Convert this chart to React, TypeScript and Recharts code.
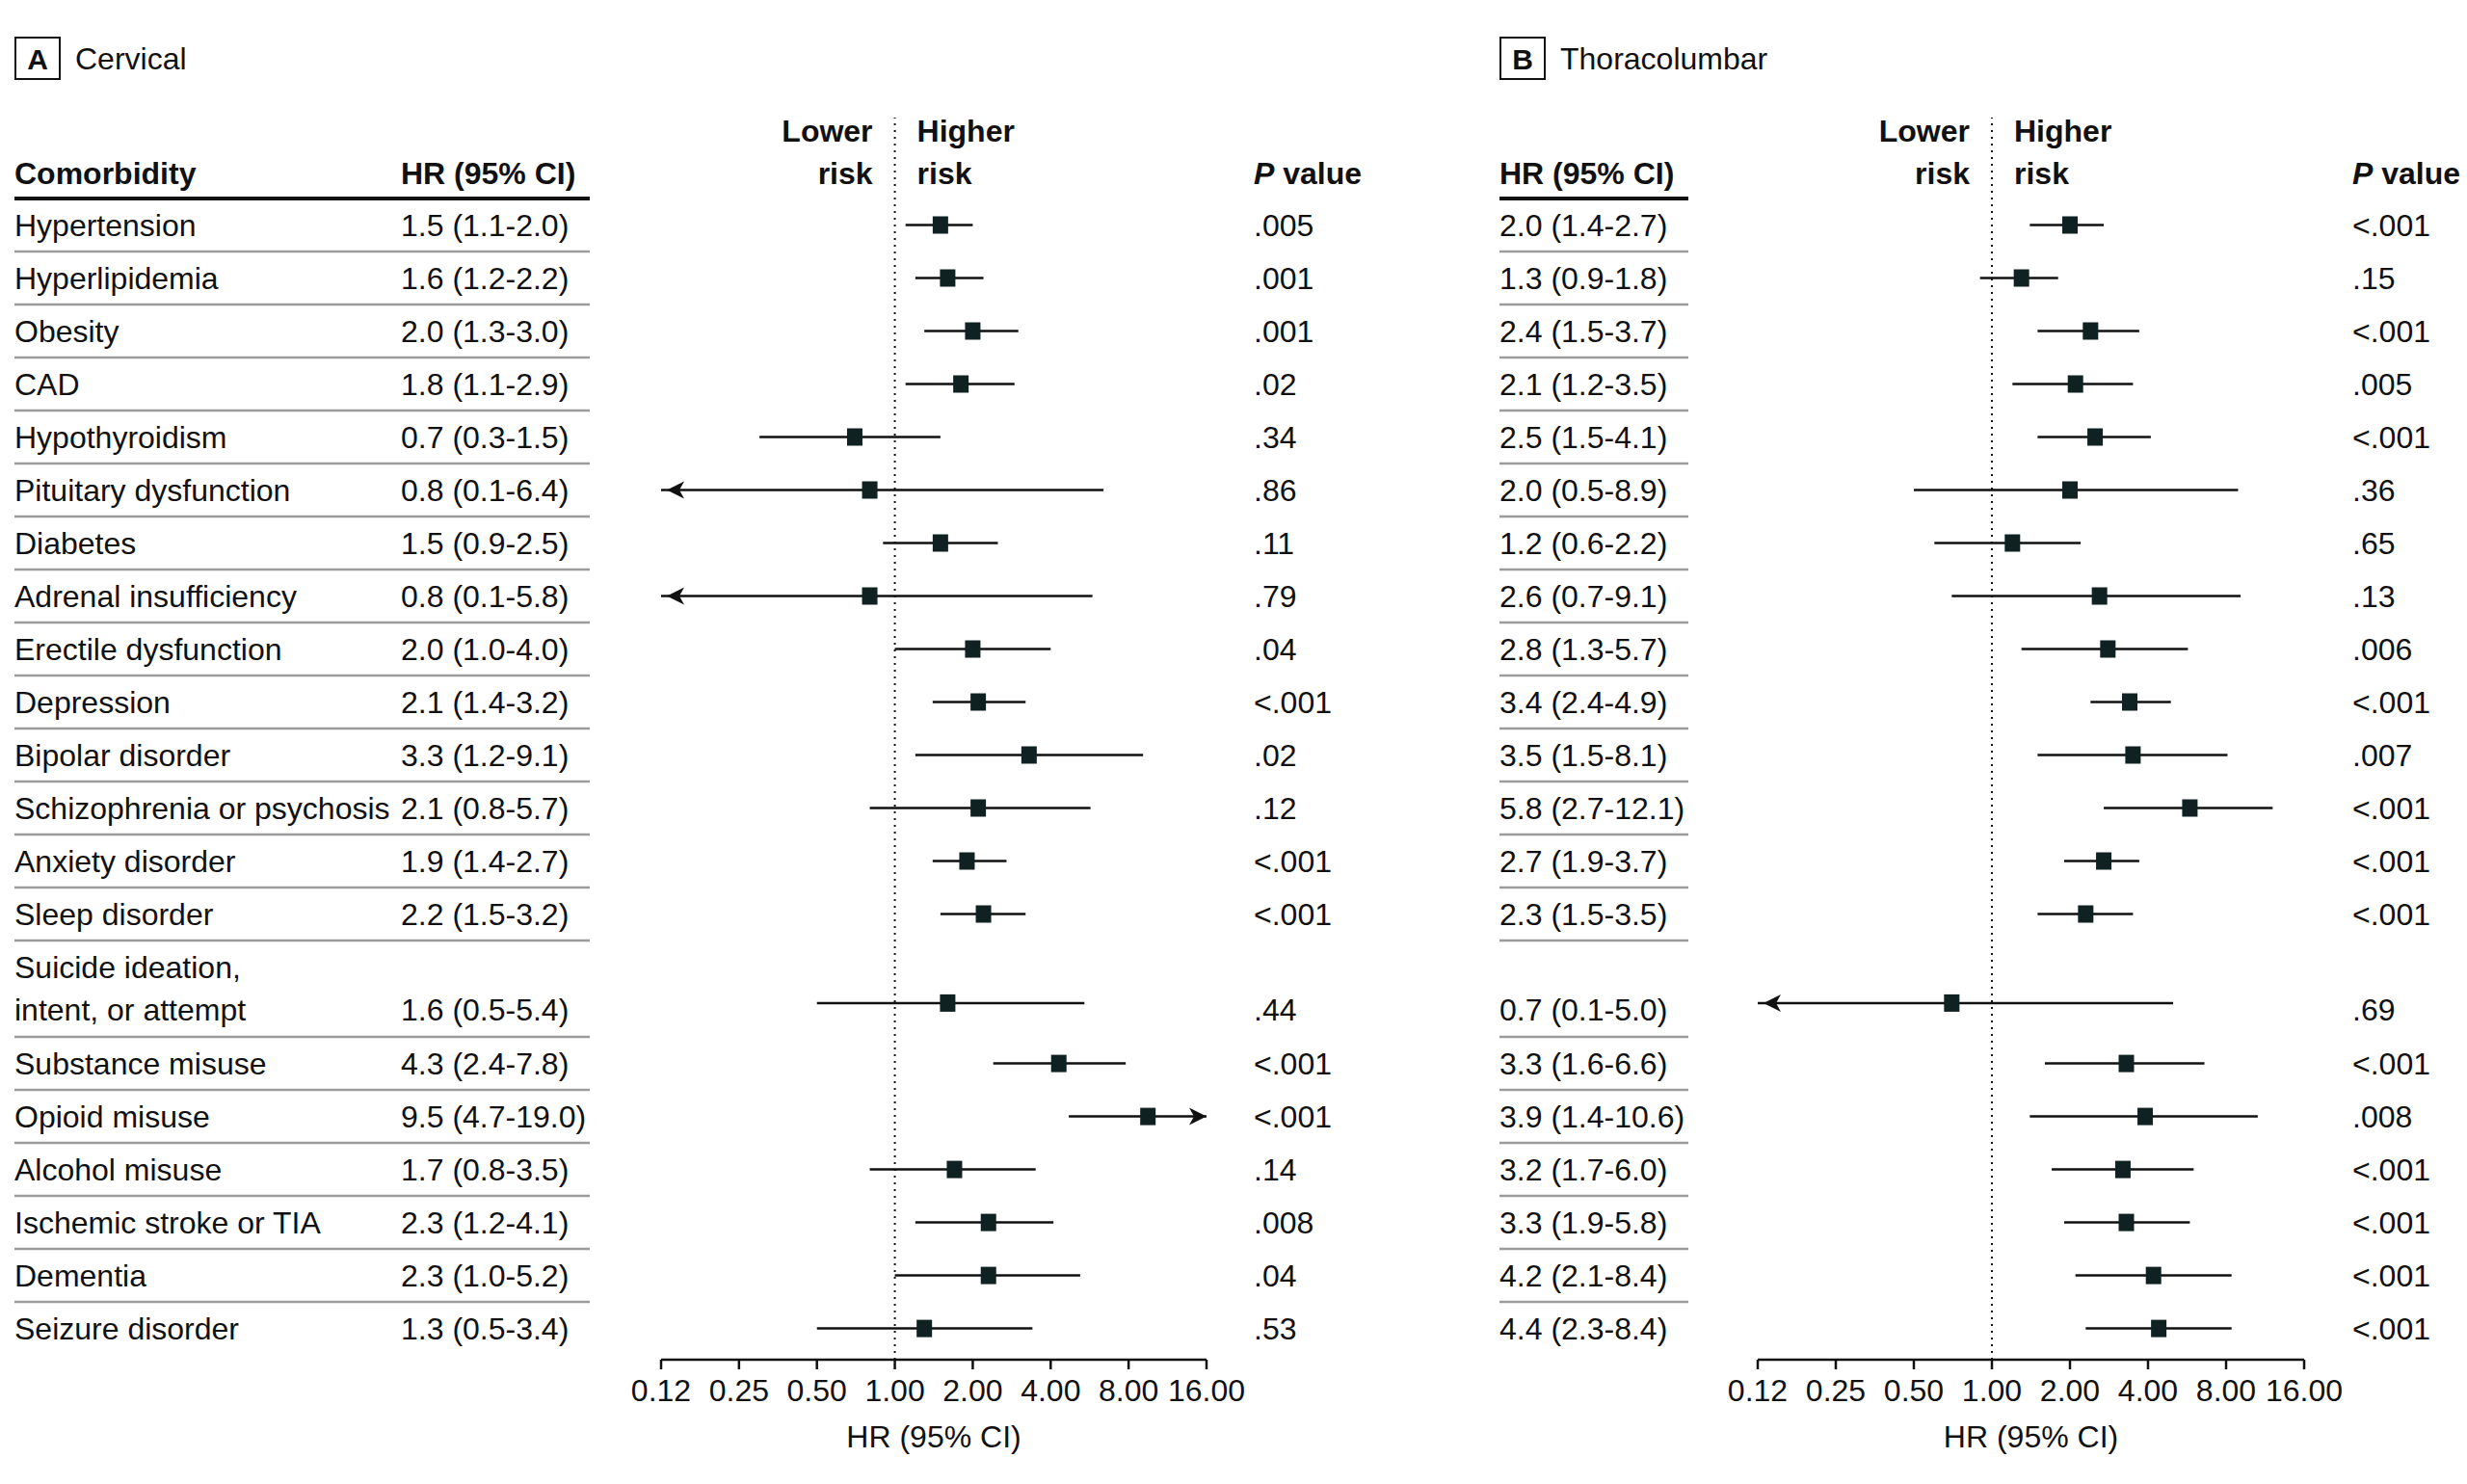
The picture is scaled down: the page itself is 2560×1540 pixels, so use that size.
import React from "react";
import {
  ScatterChart,
  Scatter,
  XAxis,
  YAxis,
  ErrorBar,
  ReferenceLine,
  Customized,
} from "recharts";

const FONT = '"Liberation Sans", Arial, sans-serif';
const INK = "#111";
const MARK = "#0f2121";
const RULE = "#9b9b9b";

const COMORBIDITIES = [
  "Hypertension",
  "Hyperlipidemia",
  "Obesity",
  "CAD",
  "Hypothyroidism",
  "Pituitary dysfunction",
  "Diabetes",
  "Adrenal insufficiency",
  "Erectile dysfunction",
  "Depression",
  "Bipolar disorder",
  "Schizophrenia or psychosis",
  "Anxiety disorder",
  "Sleep disorder",
  "Suicide ideation,\nintent, or attempt",
  "Substance misuse",
  "Opioid misuse",
  "Alcohol misuse",
  "Ischemic stroke or TIA",
  "Dementia",
  "Seizure disorder",
];

const CERVICAL_HR = [1.5, 1.6, 2.0, 1.8, 0.7, 0.8, 1.5, 0.8, 2.0, 2.1, 3.3, 2.1, 1.9, 2.2, 1.6, 4.3, 9.5, 1.7, 2.3, 2.3, 1.3];
const CERVICAL_LO = [1.1, 1.2, 1.3, 1.1, 0.3, 0.1, 0.9, 0.1, 1.0, 1.4, 1.2, 0.8, 1.4, 1.5, 0.5, 2.4, 4.7, 0.8, 1.2, 1.0, 0.5];
const CERVICAL_HI = [2.0, 2.2, 3.0, 2.9, 1.5, 6.4, 2.5, 5.8, 4.0, 3.2, 9.1, 5.7, 2.7, 3.2, 5.4, 7.8, 19.0, 3.5, 4.1, 5.2, 3.4];
const CERVICAL_P = [".005", ".001", ".001", ".02", ".34", ".86", ".11", ".79", ".04", "<.001", ".02", ".12", "<.001", "<.001", ".44", "<.001", "<.001", ".14", ".008", ".04", ".53"];

const THORACO_HR = [2.0, 1.3, 2.4, 2.1, 2.5, 2.0, 1.2, 2.6, 2.8, 3.4, 3.5, 5.8, 2.7, 2.3, 0.7, 3.3, 3.9, 3.2, 3.3, 4.2, 4.4];
const THORACO_LO = [1.4, 0.9, 1.5, 1.2, 1.5, 0.5, 0.6, 0.7, 1.3, 2.4, 1.5, 2.7, 1.9, 1.5, 0.1, 1.6, 1.4, 1.7, 1.9, 2.1, 2.3];
const THORACO_HI = [2.7, 1.8, 3.7, 3.5, 4.1, 8.9, 2.2, 9.1, 5.7, 4.9, 8.1, 12.1, 3.7, 3.5, 5.0, 6.6, 10.6, 6.0, 5.8, 8.4, 8.4];
const THORACO_P = ["<.001", ".15", "<.001", ".005", "<.001", ".36", ".65", ".13", ".006", "<.001", ".007", "<.001", "<.001", "<.001", ".69", "<.001", ".008", "<.001", "<.001", "<.001", "<.001"];

const X_TICKS = [0.125, 0.25, 0.5, 1, 2, 4, 8, 16];
const X_TICK_LABELS = ["0.12", "0.25", "0.50", "1.00", "2.00", "4.00", "8.00", "16.00"];

// layout (px)
const UNIT = 55;
const PLOT_TOP = 122;
const HEADER_Y = 206;
const AXIS_Y = 1411;
const CHART_H = 1540;
const XAXIS_H = 110;
const X_MIN = 0.125;
const X_MAX = 16;
const Y_DOMAIN = [(PLOT_TOP - HEADER_Y) / UNIT, (AXIS_Y - HEADER_Y) / UNIT];

const txt = { fontFamily: FONT, fontSize: 32, fill: INK, dominantBaseline: "central" } as const;

type Row = {
  name: string;
  x: number;
  y: number;
  err: [number, number];
  hrText: string;
  p: string;
  below: number;
  last: boolean;
  clipLo: boolean;
  clipHi: boolean;
};

function buildRows(hr: number[], lo: number[], hi: number[], p: string[]): Row[] {
  let top = 0;
  return COMORBIDITIES.map((name, i) => {
    const twoLine = name.includes("\n");
    const h = twoLine ? 1.82 : 1;
    const center = twoLine ? top + 1.18 : top + 0.5;
    const below = top + h - center;
    top += h;
    const l = Math.max(lo[i], X_MIN);
    const u = Math.min(hi[i], X_MAX);
    return {
      name,
      x: hr[i],
      y: center,
      err: [hr[i] - l, u - hr[i]],
      hrText: `${hr[i].toFixed(1)} (${lo[i].toFixed(1)}-${hi[i].toFixed(1)})`,
      p: p[i],
      below,
      last: i === COMORBIDITIES.length - 1,
      clipLo: lo[i] < X_MIN,
      clipHi: hi[i] > X_MAX,
    };
  });
}

type Layout = {
  width: number;
  yAxisWidth: number;
  marginRight: number;
  nameX: number | null;
  hrX: number;
  sepX1: number;
  sepX2: number;
  pX: number;
  letter: string;
  title: string;
};

function RowTick(props: any) {
  const { y, payload, rows, layout } = props;
  const row: Row | undefined = rows.find((r: Row) => Math.abs(r.y - payload.value) < 1e-6);
  if (!row) return null;
  const lines = row.name.split("\n");
  // two-line rows: text sits a little below the marker
  const ty = lines.length > 1 ? y + 7 : y;
  return (
    <g>
      {layout.nameX !== null &&
        lines.map((ln: string, k: number) => (
          <text key={k} x={layout.nameX} y={ty - (lines.length - 1 - k) * 44} {...txt}>
            {ln}
          </text>
        ))}
      <text x={layout.hrX} y={ty} {...txt}>
        {row.hrText}
      </text>
      <text x={layout.pX} y={ty} {...txt}>
        {row.p}
      </text>
      {!row.last && (
        <line
          x1={layout.sepX1}
          x2={layout.sepX2}
          y1={y + row.below * UNIT}
          y2={y + row.below * UNIT}
          stroke={RULE}
          strokeWidth={2.5}
        />
      )}
    </g>
  );
}

function Square(props: any) {
  const { cx, cy } = props;
  return <rect x={cx - 8} y={cy - 9} width={16} height={18} fill={MARK} />;
}

function ArrowHead(props: any) {
  const { cx, cy, payload } = props;
  const d = payload.dir === "left" ? 1 : -1;
  const tip = payload.dir === "left" ? cx + 6 : cx;
  return (
    <polygon
      points={`${tip},${cy} ${tip + d * 18},${cy - 9} ${tip + d * 13},${cy} ${tip + d * 18},${cy + 9}`}
      fill={INK}
    />
  );
}

function RiskLabel(props: any) {
  const { viewBox } = props;
  const x = viewBox.x;
  const y = viewBox.y;
  const b = { ...txt, fontWeight: 700 };
  return (
    <g>
      <text x={x - 23} y={y + 14} textAnchor="end" {...b}>Lower</text>
      <text x={x - 23} y={y + 58} textAnchor="end" {...b}>risk</text>
      <text x={x + 23} y={y + 14} {...b}>Higher</text>
      <text x={x + 23} y={y + 58} {...b}>risk</text>
    </g>
  );
}

function AxisTitle(props: any) {
  const { viewBox } = props;
  return (
    <text x={viewBox.x + viewBox.width / 2} y={viewBox.y + 80} textAnchor="middle" {...txt}>
      HR (95% CI)
    </text>
  );
}

function Header({ layout }: { layout: Layout }) {
  const b = { ...txt, fontWeight: 700 };
  const tx = layout.nameX !== null ? layout.nameX : layout.hrX;
  return (
    <g>
      <rect x={tx + 1} y={39} width={46} height={43} fill="none" stroke={INK} strokeWidth={2} />
      <text x={tx + 24} y={61} textAnchor="middle" {...b} fontSize={30}>
        {layout.letter}
      </text>
      <text x={tx + 63} y={61} {...txt}>
        {layout.title}
      </text>
      {layout.nameX !== null && (
        <text x={layout.nameX} y={180} {...b}>Comorbidity</text>
      )}
      <text x={layout.hrX} y={180} {...b}>HR (95% CI)</text>
      <text x={layout.pX} y={180} {...b}>
        <tspan fontStyle="italic">P</tspan> value
      </text>
      <line x1={layout.sepX1} x2={layout.sepX2} y1={HEADER_Y} y2={HEADER_Y} stroke={INK} strokeWidth={4} />
    </g>
  );
}

function ForestPanel({ rows, layout }: { rows: Row[]; layout: Layout }) {
  const arrows = [
    ...rows.filter((r) => r.clipLo).map((r) => ({ x: X_MIN, y: r.y, dir: "left" })),
    ...rows.filter((r) => r.clipHi).map((r) => ({ x: X_MAX, y: r.y, dir: "right" })),
  ];
  return (
    <ScatterChart
      width={layout.width}
      height={CHART_H}
      margin={{ top: PLOT_TOP, right: layout.marginRight, bottom: CHART_H - AXIS_Y - XAXIS_H, left: 0 }}
    >
      <XAxis
        type="number"
        dataKey="x"
        scale="log"
        domain={[X_MIN, X_MAX]}
        ticks={X_TICKS}
        interval={0}
        allowDataOverflow
        height={XAXIS_H}
        tickSize={10}
        tickMargin={10}
        tickFormatter={(v: number) => X_TICK_LABELS[X_TICKS.indexOf(v)]}
        tick={{ fontSize: 32, fontFamily: FONT, fill: INK }}
        axisLine={{ stroke: INK, strokeWidth: 2.5 }}
        tickLine={{ stroke: INK, strokeWidth: 2.5 }}
        label={<AxisTitle />}
      />
      <YAxis
        type="number"
        dataKey="y"
        domain={Y_DOMAIN}
        reversed
        allowDataOverflow
        ticks={rows.map((r) => r.y)}
        interval={0}
        width={layout.yAxisWidth}
        axisLine={false}
        tickLine={false}
        tick={(p: any) => <RowTick {...p} rows={rows} layout={layout} />}
      />
      <ReferenceLine x={1} stroke={INK} strokeWidth={2} strokeDasharray="2 5" label={<RiskLabel />} />
      <Scatter data={rows} shape={<Square />} isAnimationActive={false}>
        <ErrorBar dataKey="err" direction="x" width={0} stroke={INK} strokeWidth={2.5} />
      </Scatter>
      <Scatter data={arrows} shape={<ArrowHead />} isAnimationActive={false} />
      <Customized component={() => <Header layout={layout} />} />
    </ScatterChart>
  );
}

const CERVICAL_LAYOUT: Layout = {
  width: 1480,
  yAxisWidth: 686,
  marginRight: 228,
  nameX: 15,
  hrX: 416,
  sepX1: 15,
  sepX2: 612,
  pX: 1301,
  letter: "A",
  title: "Cervical",
};

const THORACO_LAYOUT: Layout = {
  width: 1080,
  yAxisWidth: 344,
  marginRight: 169,
  nameX: null,
  hrX: 76,
  sepX1: 76,
  sepX2: 272,
  pX: 961,
  letter: "B",
  title: "Thoracolumbar",
};

export default function App() {
  const cervical = buildRows(CERVICAL_HR, CERVICAL_LO, CERVICAL_HI, CERVICAL_P);
  const thoraco = buildRows(THORACO_HR, THORACO_LO, THORACO_HI, THORACO_P);
  return (
    <div style={{ position: "absolute", left: 0, top: 0, width: 2560, height: 1540, background: "#fff", overflow: "hidden" }}>
      <div style={{ position: "absolute", left: 0, top: 0 }}>
        <ForestPanel rows={cervical} layout={CERVICAL_LAYOUT} />
      </div>
      <div style={{ position: "absolute", left: 1480, top: 0 }}>
        <ForestPanel rows={thoraco} layout={THORACO_LAYOUT} />
      </div>
    </div>
  );
}
